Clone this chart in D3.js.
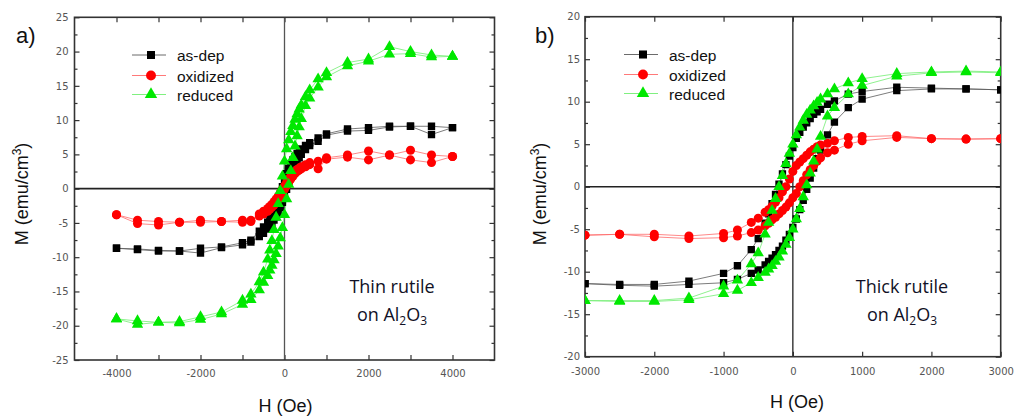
<!DOCTYPE html>
<html>
<head>
<meta charset="utf-8">
<script src="https://cdn.jsdelivr.net/npm/d3@7"></script>
<style>
  html, body { margin: 0; padding: 0; background: #fff; }
  svg { display: block; }
</style>
</head>
<body>
<svg id="chart" width="1015" height="418"></svg>
<script>
// ---------------- DATA ----------------
const seriesNames = ["as-dep", "oxidized", "reduced"];

// Panel a (thin rutile) field grid, descending H (Oe)
const hA = [4000,3500,3000,2500,2000,1500,1000,800,600,500,400,350,300,250,200,150,100,50,0,
            -50,-100,-150,-200,-250,-300,-350,-400,-500,-600,-800,-1000,-1500,-2000,-2500,-3000,-3500,-4000];
// descending-field branch values (emu/cm3), aligned with hA
const aAsDepDown = [8.9,9.1,9.1,9.1,8.9,8.7,8.0,7.4,6.7,6.3,5.8,5.5,5.1,4.7,4.2,3.6,3.0,2.2,1.3,
                    0.3,-0.8,-1.8,-2.6,-3.3,-3.9,-4.4,-4.9,-5.6,-6.2,-7.5,-7.9,-8.5,-8.7,-9.1,-9.0,-8.8,-8.7];
// ascending-field branch values, aligned with hA
const aAsDepUp   = [8.9,7.9,9.1,9.0,8.5,8.4,7.8,6.9,6.3,5.7,5.0,4.5,4.0,3.4,2.8,2.0,1.0,-0.1,-1.1,
                    -2.0,-2.8,-3.5,-4.1,-4.6,-5.1,-5.5,-5.9,-6.5,-7.0,-7.8,-8.2,-8.6,-9.4,-9.1,-9.1,-8.9,-8.7];
const aOxDown    = [4.7,4.9,5.6,4.9,5.5,4.9,4.5,4.0,3.8,3.5,3.2,3.0,2.8,2.5,2.2,1.8,1.4,0.9,0.4,
                    -0.1,-0.6,-1.1,-1.5,-1.9,-2.3,-2.6,-2.9,-3.3,-3.7,-4.6,-4.6,-4.8,-4.6,-4.9,-4.8,-4.6,-3.8];
const aOxUp      = [4.7,3.8,4.2,4.9,4.2,4.6,4.3,2.9,3.5,3.2,2.9,2.7,2.5,2.2,1.8,1.4,0.9,0.4,-0.1,
                    -0.6,-1.1,-1.6,-2.0,-2.4,-2.7,-3.0,-3.3,-3.7,-4.0,-4.8,-4.9,-4.8,-4.9,-4.9,-5.3,-5.1,-3.8];
const aRedDown   = [19.3,19.5,20.0,20.7,18.9,18.4,16.9,16.0,14.4,13.4,12.2,11.6,10.9,10.1,9.2,8.3,7.1,5.8,4.0,
                    1.8,-0.3,-2.2,-4.2,-6.0,-7.6,-9.0,-10.3,-12.2,-13.6,-15.4,-16.3,-18.0,-18.7,-19.4,-19.5,-19.3,-19.0];
const aRedUp     = [19.3,19.2,19.7,19.6,18.6,17.9,16.3,14.8,13.2,12.1,10.2,9.0,7.7,6.2,4.5,2.6,0.6,-1.5,-3.8,
                    -5.7,-7.2,-8.4,-9.5,-10.4,-11.2,-11.9,-12.7,-13.7,-14.8,-16.2,-16.9,-18.3,-19.1,-19.6,-19.5,-19.8,-19.0];

// Panel b (thick rutile) field grid, descending H (Oe)
const hB = [3000,2500,2000,1500,1000,800,600,500,400,350,300,250,200,150,100,50,0,
            -50,-100,-150,-200,-250,-300,-350,-400,-500,-600,-800,-1000,-1500,-2000,-2500,-3000];
const bAsDepDown = [11.4,11.5,11.6,11.7,11.2,10.9,10.1,9.7,9.1,8.8,8.5,8.0,7.5,7.0,6.4,5.7,4.6,
                    3.6,2.6,1.5,0.3,-0.9,-2.0,-3.2,-4.3,-6.1,-7.4,-9.3,-10.2,-11.1,-11.5,-11.5,-11.4];
const bAsDepUp   = [11.4,11.5,11.5,11.3,10.3,9.3,7.6,6.1,4.3,3.3,2.2,1.0,-0.3,-1.6,-2.7,-3.8,-4.8,
                    -5.6,-6.3,-7.0,-7.5,-8.0,-8.4,-8.8,-9.2,-9.8,-10.2,-10.9,-11.3,-11.5,-11.7,-11.6,-11.4];
const bOxDown    = [5.65,5.6,5.65,6.0,5.9,5.8,5.4,5.1,4.9,4.7,4.4,4.1,3.7,3.3,2.9,2.5,1.8,
                    0.9,0.0,-0.6,-1.3,-1.8,-2.3,-2.7,-3.0,-3.7,-4.2,-5.1,-5.5,-5.8,-5.6,-5.6,-5.7];
const bOxUp      = [5.65,5.6,5.65,5.8,5.4,5.0,4.3,4.0,3.4,3.0,2.5,2.0,1.4,0.7,0.0,-0.8,-1.3,
                    -1.9,-2.4,-2.8,-3.2,-3.6,-3.9,-4.3,-4.6,-5.1,-5.4,-5.8,-6.0,-6.1,-5.9,-5.6,-5.7];
const bRedDown   = [13.5,13.6,13.5,13.3,12.7,12.2,11.5,10.9,10.3,9.9,9.5,9.0,8.5,7.8,7.0,6.1,5.0,
                    3.9,2.7,1.3,0.0,-1.4,-2.8,-4.2,-5.6,-7.8,-9.1,-11.0,-11.7,-13.1,-13.4,-13.4,-13.4];
const bRedUp     = [13.4,13.5,13.4,13.0,11.9,10.9,9.3,8.3,5.9,4.4,3.0,1.6,0.2,-1.2,-2.6,-3.8,-5.0,
                    -6.0,-6.8,-7.6,-8.3,-8.8,-9.3,-9.7,-10.1,-10.7,-11.3,-12.2,-12.6,-13.3,-13.5,-13.5,-13.4];

// Tick values
const xTicksA = [-4000,-2000,0,2000,4000];
const xMinorA = [-3000,-1000,1000,3000];
const yTicksA = [-25,-20,-15,-10,-5,0,5,10,15,20,25];
const yMinorA = [-22.5,-17.5,-12.5,-7.5,-2.5,2.5,7.5,12.5,17.5,22.5];
const xTicksB = [-3000,-2000,-1000,0,1000,2000,3000];
const yTicksB = [-20,-15,-10,-5,0,5,10,15,20];
const yMinorB = [-17.5,-12.5,-7.5,-2.5,2.5,7.5,12.5,17.5];

// ---------------- STYLE ----------------
const markerColor = ["#000000", "#ff0000", "#00e800"];
const lineColor   = ["#5a5a5a", "#ff6a6a", "#72ee72"];
const markerType  = [d3.symbolSquare, d3.symbolCircle, d3.symbolTriangle];
const markerSize  = [54, 64, 56];

const svg = d3.select("#chart");

function loop(h, down, up) {
  const d = h.map((v, i) => [v, down[i]]);
  const u = h.map((v, i) => [v, up[i]]).reverse();
  return d.concat(u);
}

function drawPanel(cfg) {
  const x = d3.scaleLinear().domain(cfg.xDomain).range([cfg.left, cfg.right]);
  const y = d3.scaleLinear().domain(cfg.yDomain).range([cfg.bottom, cfg.top]);
  const g = svg.append("g");
  const clipId = "clip" + cfg.id;
  svg.append("clipPath").attr("id", clipId).append("rect")
    .attr("x", cfg.left).attr("y", cfg.top)
    .attr("width", cfg.right - cfg.left).attr("height", cfg.bottom - cfg.top);

  const tickFmt = d => String(d);
  const lblStyle = sel => sel.selectAll("text")
      .attr("fill", "#555").style("font-family", "DejaVu Sans, sans-serif").style("font-size", "10px");
  const clean = sel => { sel.select(".domain").remove(); sel.selectAll("line").attr("stroke", "#333").attr("stroke-width", 1.2); };

  // bottom
  g.append("g").attr("transform", `translate(0,${cfg.bottom})`)
    .call(d3.axisBottom(x).tickValues(cfg.xTicks).tickSize(-5).tickPadding(cfg.xPad).tickFormat(tickFmt))
    .call(clean).call(lblStyle);
  if (cfg.xMinor.length) {
    g.append("g").attr("transform", `translate(0,${cfg.bottom})`)
      .call(d3.axisBottom(x).tickValues(cfg.xMinor).tickSize(-5).tickFormat(""))
      .call(clean);
    g.append("g").attr("transform", `translate(0,${cfg.top})`)
      .call(d3.axisTop(x).tickValues(cfg.xMinor).tickSize(-5).tickFormat(""))
      .call(clean);
  }
  g.append("g").attr("transform", `translate(0,${cfg.top})`)
    .call(d3.axisTop(x).tickValues(cfg.xTicks).tickSize(-5).tickFormat(""))
    .call(clean);
  // left
  g.append("g").attr("transform", `translate(${cfg.left},0)`)
    .call(d3.axisLeft(y).tickValues(cfg.yTicks).tickSize(-5).tickPadding(cfg.yPad).tickFormat(tickFmt))
    .call(clean).call(lblStyle);
  g.append("g").attr("transform", `translate(${cfg.left},0)`)
    .call(d3.axisLeft(y).tickValues(cfg.yMinor).tickSize(-3).tickFormat(""))
    .call(clean);
  // right
  g.append("g").attr("transform", `translate(${cfg.right},0)`)
    .call(d3.axisRight(y).tickValues(cfg.yTicks).tickSize(-5).tickFormat(""))
    .call(clean);
  g.append("g").attr("transform", `translate(${cfg.right},0)`)
    .call(d3.axisRight(y).tickValues(cfg.yMinor).tickSize(-3).tickFormat(""))
    .call(clean);

  // zero lines
  g.append("line").attr("x1", cfg.left).attr("x2", cfg.right).attr("y1", y(0)).attr("y2", y(0))
    .attr("stroke", "#222").attr("stroke-width", 1.6);
  g.append("line").attr("x1", x(0)).attr("x2", x(0)).attr("y1", cfg.top).attr("y2", cfg.bottom)
    .attr("stroke", cfg.vColor).attr("stroke-width", 1.3);

  // frame
  g.append("rect").attr("x", cfg.left).attr("y", cfg.top)
    .attr("width", cfg.right - cfg.left).attr("height", cfg.bottom - cfg.top)
    .attr("fill", "none").attr("stroke", "#333").attr("stroke-width", 1.6);

  // series
  const plot = g.append("g").attr("clip-path", `url(#${clipId})`);
  const line = d3.line().x(d => x(d[0])).y(d => y(d[1]));
  cfg.series.forEach((s, i) => {
    const pts = loop(cfg.h, s[0], s[1]);
    plot.append("path").attr("d", line(pts)).attr("fill", "none")
      .attr("stroke", lineColor[i]).attr("stroke-width", 0.8);
  });
  cfg.series.forEach((s, i) => {
    const pts = loop(cfg.h, s[0], s[1]);
    plot.selectAll(null).data(pts).enter().append("path")
      .attr("d", d3.symbol().type(markerType[i]).size(markerSize[i]))
      .attr("transform", d => `translate(${x(d[0])},${y(d[1])})`)
      .attr("fill", markerColor[i]);
  });

  // legend
  cfg.legendRows.forEach((ry, i) => {
    g.append("line").attr("x1", cfg.legX0).attr("x2", cfg.legX1).attr("y1", ry).attr("y2", ry)
      .attr("stroke", lineColor[i]).attr("stroke-width", 0.9);
    g.append("path").attr("d", d3.symbol().type(markerType[i]).size(markerSize[i] * 1.2)())
      .attr("transform", `translate(${(cfg.legX0 + cfg.legX1) / 2 + 2},${ry})`).attr("fill", markerColor[i]);
    g.append("text").attr("x", cfg.legText).attr("y", ry + 6)
      .style("font-family", "Liberation Sans, Arial, sans-serif").style("font-size", "15.5px")
      .attr("fill", "#111").text(seriesNames[i]);
  });

  // axis titles
  const t1 = g.append("text").attr("transform", `translate(${cfg.yTitleX},${cfg.yTitleY}) rotate(-90)`)
    .attr("text-anchor", "middle").style("font-family", "Liberation Sans, Arial, sans-serif")
    .style("font-size", "18px").attr("fill", "#111");
  t1.append("tspan").text("M (emu/cm");
  t1.append("tspan").attr("dy", -7).style("font-size", "12px").text("3");
  t1.append("tspan").attr("dy", 7).text(")");
  g.append("text").attr("x", cfg.xTitleX).attr("y", cfg.xTitleY).attr("text-anchor", "middle")
    .style("font-family", "Liberation Sans, Arial, sans-serif").style("font-size", "18px")
    .attr("fill", "#111").text("H (Oe)");

  // panel label
  g.append("text").attr("x", cfg.lblX).attr("y", 43).style("font-family", "Liberation Sans, Arial, sans-serif")
    .style("font-size", "22px").attr("fill", "#111").text(cfg.label);

  // annotation
  const annStyle = sel => sel.attr("text-anchor", "middle").style("font-family", "Open Sans, sans-serif")
    .style("font-size", "18px").attr("fill", "#111126");
  g.append("text").attr("x", cfg.annX).attr("y", 293).call(annStyle).text(cfg.annText);
  const a2 = g.append("text").attr("x", cfg.annX).attr("y", 320.5).call(annStyle);
  a2.append("tspan").text("on Al");
  a2.append("tspan").attr("dy", 4).style("font-size", "12px").text("2");
  a2.append("tspan").attr("dy", -4).text("O");
  a2.append("tspan").attr("dy", 4).style("font-size", "12px").text("3");
}

drawPanel({
  id: "A", left: 74.5, right: 494.5, top: 17.3, bottom: 360,
  xDomain: [-5000, 5000], yDomain: [-25, 25],
  xTicks: xTicksA, xMinor: xMinorA, yTicks: yTicksA, yMinor: yMinorA,
  xPad: 10, yPad: 6, vColor: "#555",
  h: hA,
  series: [[aAsDepDown, aAsDepUp], [aOxDown, aOxUp], [aRedDown, aRedUp]],
  legendRows: [55, 75.5, 94.5], legX0: 132, legX1: 166, legText: 177,
  yTitleX: 28, yTitleY: 194, xTitleX: 285.5, xTitleY: 411.5,
  lblX: 16, label: "a)", annX: 392, annText: "Thin rutile"
});

drawPanel({
  id: "B", left: 585, right: 1000.7, top: 16.7, bottom: 356.7,
  xDomain: [-3000, 3000], yDomain: [-20, 20],
  xTicks: xTicksB, xMinor: [], yTicks: yTicksB, yMinor: yMinorB,
  xPad: 11, yPad: 5, vColor: "#222",
  h: hB,
  series: [[bAsDepDown, bAsDepUp], [bOxDown, bOxUp], [bRedDown, bRedUp]],
  legendRows: [54.5, 74.5, 93.5], legX0: 624, legX1: 658, legText: 669,
  yTitleX: 546, yTitleY: 194, xTitleX: 797, xTitleY: 408,
  lblX: 535, label: "b)", annX: 902, annText: "Thick rutile"
});
</script>
</body>
</html>
